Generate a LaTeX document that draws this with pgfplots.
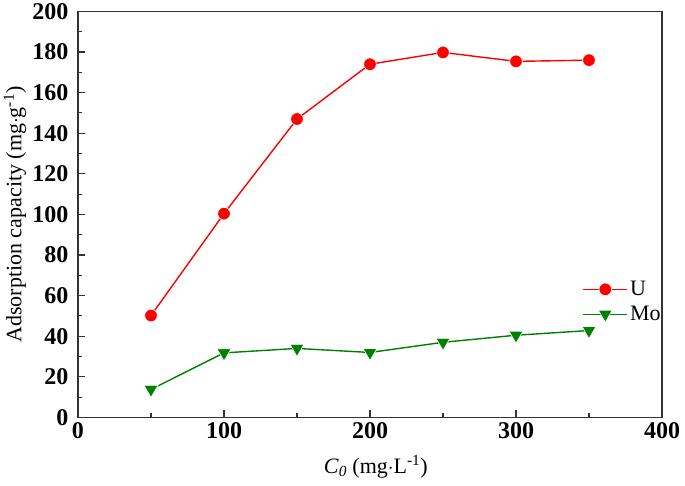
\documentclass[border=0pt]{standalone}
\usepackage{fontspec}
\setmainfont{Liberation Serif}
\usepackage{pgfplots}
\pgfplotsset{compat=1.18}
\definecolor{ured}{RGB}{255,0,0}
\definecolor{mogreen}{RGB}{0,128,0}
\begin{document}
\begin{tikzpicture}
\begin{axis}[
  scale only axis,
  width=584pt, height=406pt,
  xmin=0, xmax=400, ymin=0, ymax=200,
  xtick={0,100,200,300,400},
  ytick={0,20,...,200},
  minor x tick num=1,
  minor y tick num=1,
  tick align=inside,
  xtick pos=bottom, ytick pos=left,
  major tick length=7pt, minor tick length=4pt,
  axis line style={line width=1.3pt, black!80},
  every tick/.style={line width=1.1pt, black!80},
  /pgf/number format/assume math mode=true,
  tick label style={font=\bfseries\fontsize{24}{24}\selectfont},
  xticklabel style={yshift=-2pt},
  yticklabel style={xshift=-6pt},
  label style={font=\fontsize{22}{24}\selectfont},
  xlabel={\textit{C}\textsubscript{\textit{0}} (mg$\cdot$L\textsuperscript{-1})},
  ylabel={Adsorption capacity (mg$\cdot$g\textsuperscript{-1})},
  xlabel style={at={(axis description cs:0.51,-0.121)}, anchor=center},
  ylabel style={at={(axis description cs:-0.108,0.5)}, anchor=center},
  legend style={draw=none, fill=none, at={(0.862,0.343)}, anchor=north west,
    font=\fontsize{22}{24}\selectfont, row sep=5pt, inner sep=1pt},
  legend cell align=left,
  legend image code/.code={\draw[mark repeat=2,mark phase=2] plot coordinates {(0pt,0pt)(22pt,0pt)(44pt,0pt)};},
]
\addplot[color=ured, line width=1.4pt, mark=*, mark size=6.3pt, mark options={draw=white, line width=0.6pt, fill=ured}]
coordinates {(50,50.2)(100,100.4)(150,147)(200,174)(250,179.8)(300,175.4)(350,176)};
\addlegendentry{U}
\addplot[color=mogreen, line width=1.4pt, mark=triangle*, mark size=8pt, mark options={rotate=180, draw=white, line width=0.6pt, fill=mogreen}]
coordinates {(50,13.8)(100,31.8)(150,34)(200,32)(250,37)(300,40.5)(350,42.8)};
\addlegendentry{Mo}
\end{axis}
\path[use as bounding box] ([xshift=-78pt,yshift=-68pt]current axis.south west) rectangle ([xshift=23pt,yshift=10pt]current axis.north east);
\end{tikzpicture}
\end{document}
